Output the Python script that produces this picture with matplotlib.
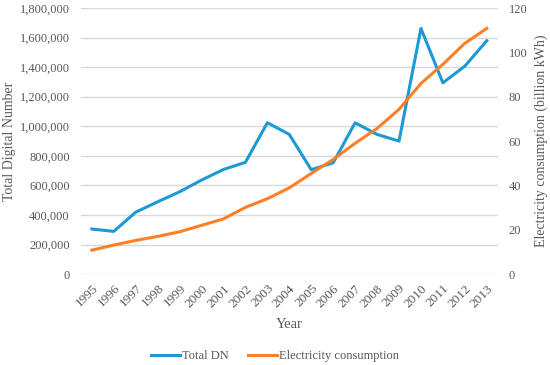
import matplotlib.pyplot as plt
from matplotlib.ticker import FuncFormatter

years = [str(y) for y in range(1995, 2014)]
total_dn = [305000, 289000, 419000, 489000, 557000, 636000, 708000, 756000,
            1024000, 945000, 706000, 753000, 1024000, 945000, 900000,
            1662000, 1294000, 1407000, 1579000]
electricity = [10.8, 13.1, 15.2, 17.0, 19.1, 22.0, 24.9, 30.1, 34.0, 38.9,
               45.4, 51.7, 59.0, 65.7, 74.3, 86.0, 94.6, 104.1, 110.8]

grey = "#595959"
plt.rcParams["font.family"] = ["Liberation Serif", "DejaVu Serif"]

fig = plt.figure(figsize=(5.5, 3.65), dpi=100)
ax = fig.add_axes([0.147, 0.249, 0.758, 0.729])
ax2 = ax.twinx()

x = list(range(len(years)))
l1, = ax.plot(x, total_dn, color="#1B9AD6", lw=2.2, label="Total DN")
l2, = ax2.plot(x, electricity, color="#FF7F27", lw=2.2, label="Electricity consumption")

ax.set_ylim(0, 1800000)
ax.set_yticks(range(0, 1800001, 200000))
ax.yaxis.set_major_formatter(FuncFormatter(lambda v, p: f"{int(v):,}"))
ax2.set_ylim(0, 120)
ax2.set_yticks(range(0, 121, 20))
ax.set_xlim(-0.5, len(years) - 0.5)
ax.set_xticks(x)
ax.set_xticklabels(years, rotation=45, ha="right", rotation_mode="anchor")

ax.grid(axis="y", color="#d9d9d9", lw=1)
ax.set_axisbelow(True)
for a in (ax, ax2):
    for s in a.spines.values():
        s.set_visible(False)
    a.tick_params(length=0, colors=grey, labelsize=9, pad=8)
ax.tick_params(axis="x", pad=6, labelsize=9.5)

ax.set_xlabel("Year", color=grey, fontsize=10.5, labelpad=6)
ax.set_ylabel("Total Digital Number", color=grey, fontsize=10)
ax.yaxis.set_label_coords(-0.155, 0.5)
ax2.set_ylabel("Electricity consumption (billion kWh)", color=grey, fontsize=10)
ax2.yaxis.set_label_coords(1.089, 0.5)

fig.legend(handles=[l1, l2], loc="center", bbox_to_anchor=(0.5, 0.025),
           ncol=2, frameon=False, fontsize=9, labelcolor=grey,
           handlelength=2.3, columnspacing=1.5, handletextpad=0.2)

fig.savefig("out.png", dpi=100)
